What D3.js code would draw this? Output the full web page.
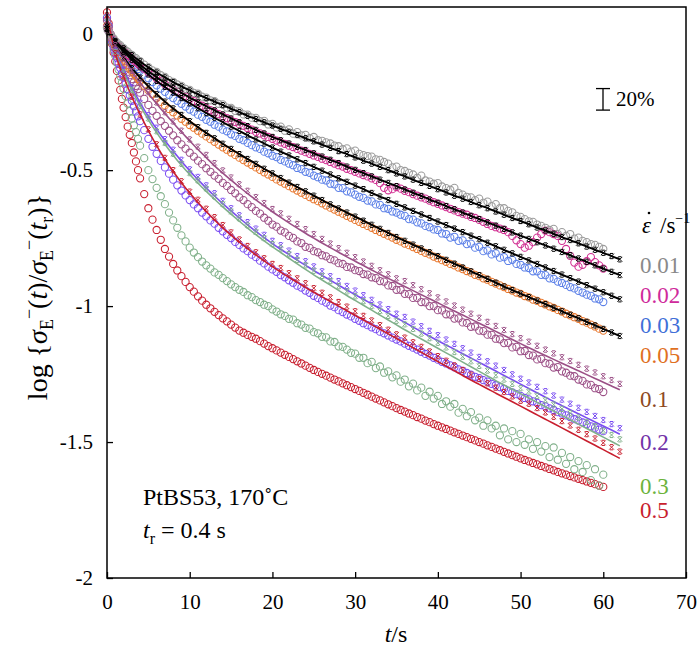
<!DOCTYPE html>
<html>
<head>
<meta charset="utf-8">
<script src="https://cdn.jsdelivr.net/npm/d3@7"></script>
<style>
  body { margin: 0; background: #fff; }
  text { font-family: "Liberation Serif", "Times New Roman", serif; }
</style>
</head>
<body>
<svg id="chart" width="698" height="652"></svg>
<script>
'use strict';

// ---------------------------------------------------------------- data
const rates = ['0.01', '0.02', '0.03', '0.05', '0.1', '0.2', '0.3', '0.5'];
const colors = ['#9c9c9c', '#d12f92', '#5c80e8', '#e8782f', '#9b4f86', '#7a4cf2', '#80b08a', '#c81e2e'];
const labelColors = ['#8a8a8a', '#cf2a9b', '#3f6fd8', '#e0701f', '#8e4a1e', '#7232a8', '#6cb33c', '#c81e2e'];
const labelY = [-0.85, -0.96, -1.07, -1.18, -1.34, -1.5, -1.66, -1.75];

const xTicks = [0, 10, 20, 30, 40, 50, 60, 70];
const yTicks = [0, -0.5, -1, -1.5, -2];

// model times (s), one per second
const fitT = [0, 1, 2, 3, 4, 5, 6, 7, 8, 9,
  10, 11, 12, 13, 14, 15, 16, 17, 18, 19,
  20, 21, 22, 23, 24, 25, 26, 27, 28, 29,
  30, 31, 32, 33, 34, 35, 36, 37, 38, 39,
  40, 41, 42, 43, 44, 45, 46, 47, 48, 49,
  50, 51, 52, 53, 54, 55, 56, 57, 58, 59,
  60, 61, 62];

// model curves (black ones also carry the markers)
const fit001 = [0.02, -0.025, -0.052, -0.077, -0.1, -0.122, -0.141, -0.159, -0.176, -0.192,
  -0.207, -0.221, -0.235, -0.248, -0.261, -0.274, -0.287, -0.3, -0.312, -0.324,
  -0.336, -0.348, -0.359, -0.371, -0.383, -0.394, -0.406, -0.418, -0.43, -0.441,
  -0.453, -0.465, -0.476, -0.488, -0.5, -0.512, -0.523, -0.535, -0.547, -0.558,
  -0.57, -0.582, -0.594, -0.605, -0.617, -0.629, -0.64, -0.652, -0.664, -0.676,
  -0.687, -0.699, -0.711, -0.722, -0.734, -0.746, -0.757, -0.769, -0.781, -0.793,
  -0.804, -0.816, -0.828];
const fit002 = [0.02, -0.028, -0.058, -0.086, -0.112, -0.136, -0.158, -0.179, -0.198, -0.216,
  -0.233, -0.249, -0.265, -0.28, -0.295, -0.31, -0.324, -0.338, -0.352, -0.365,
  -0.378, -0.39, -0.402, -0.414, -0.426, -0.438, -0.45, -0.462, -0.474, -0.487,
  -0.499, -0.511, -0.523, -0.535, -0.547, -0.559, -0.571, -0.583, -0.595, -0.608,
  -0.62, -0.632, -0.644, -0.656, -0.668, -0.68, -0.692, -0.704, -0.716, -0.729,
  -0.741, -0.753, -0.765, -0.777, -0.789, -0.801, -0.813, -0.825, -0.837, -0.85,
  -0.862, -0.874, -0.886];
const fit003 = [0.02, -0.03, -0.063, -0.094, -0.122, -0.148, -0.172, -0.194, -0.215, -0.235,
  -0.254, -0.272, -0.29, -0.307, -0.324, -0.34, -0.356, -0.372, -0.387, -0.402,
  -0.417, -0.432, -0.446, -0.46, -0.474, -0.488, -0.502, -0.516, -0.53, -0.543,
  -0.557, -0.57, -0.584, -0.597, -0.61, -0.624, -0.637, -0.65, -0.663, -0.676,
  -0.689, -0.702, -0.715, -0.728, -0.741, -0.754, -0.767, -0.78, -0.793, -0.806,
  -0.819, -0.832, -0.845, -0.858, -0.871, -0.884, -0.897, -0.91, -0.923, -0.936,
  -0.949, -0.962, -0.975];
const fit005 = [0.03, -0.04, -0.085, -0.125, -0.16, -0.192, -0.221, -0.248, -0.273, -0.297,
  -0.32, -0.342, -0.363, -0.383, -0.403, -0.422, -0.441, -0.459, -0.477, -0.495,
  -0.512, -0.529, -0.546, -0.562, -0.578, -0.594, -0.61, -0.626, -0.641, -0.656,
  -0.671, -0.686, -0.701, -0.716, -0.731, -0.746, -0.76, -0.774, -0.788, -0.802,
  -0.816, -0.83, -0.844, -0.858, -0.872, -0.886, -0.9, -0.914, -0.928, -0.941,
  -0.954, -0.967, -0.98, -0.993, -1.006, -1.019, -1.032, -1.045, -1.058, -1.071,
  -1.084, -1.097, -1.11];
const fit01 = [0.05, -0.04, -0.09, -0.135, -0.178, -0.218, -0.256, -0.292, -0.326, -0.36,
  -0.392, -0.424, -0.454, -0.484, -0.511, -0.537, -0.562, -0.586, -0.609, -0.631,
  -0.653, -0.674, -0.694, -0.713, -0.732, -0.75, -0.768, -0.785, -0.802, -0.819,
  -0.835, -0.851, -0.867, -0.883, -0.898, -0.913, -0.928, -0.943, -0.958, -0.973,
  -0.988, -1.003, -1.018, -1.033, -1.048, -1.063, -1.078, -1.093, -1.108, -1.123,
  -1.138, -1.153, -1.168, -1.182, -1.196, -1.21, -1.224, -1.238, -1.252, -1.266,
  -1.28, -1.294, -1.308];
const fit02 = [0.06, -0.06, -0.13, -0.195, -0.252, -0.303, -0.349, -0.391, -0.43, -0.467,
  -0.502, -0.535, -0.566, -0.595, -0.623, -0.65, -0.676, -0.701, -0.725, -0.748,
  -0.77, -0.791, -0.811, -0.831, -0.85, -0.869, -0.887, -0.905, -0.923, -0.941,
  -0.958, -0.975, -0.992, -1.009, -1.026, -1.043, -1.06, -1.077, -1.094, -1.111,
  -1.127, -1.143, -1.159, -1.175, -1.191, -1.207, -1.223, -1.239, -1.255, -1.271,
  -1.287, -1.303, -1.319, -1.335, -1.351, -1.366, -1.381, -1.396, -1.411, -1.426,
  -1.441, -1.456, -1.471];
const fit03 = [0.06, -0.065, -0.14, -0.205, -0.263, -0.315, -0.362, -0.405, -0.445, -0.482,
  -0.516, -0.548, -0.578, -0.607, -0.635, -0.662, -0.688, -0.713, -0.737, -0.76,
  -0.782, -0.803, -0.824, -0.845, -0.865, -0.885, -0.904, -0.923, -0.942, -0.961,
  -0.979, -0.997, -1.015, -1.033, -1.051, -1.069, -1.087, -1.104, -1.121, -1.138,
  -1.155, -1.172, -1.189, -1.206, -1.223, -1.24, -1.257, -1.274, -1.29, -1.306,
  -1.322, -1.338, -1.354, -1.37, -1.386, -1.402, -1.418, -1.434, -1.45, -1.466,
  -1.482, -1.498, -1.514];
const fit05 = [0.07, -0.07, -0.155, -0.23, -0.295, -0.355, -0.41, -0.46, -0.505, -0.546,
  -0.584, -0.619, -0.652, -0.683, -0.712, -0.739, -0.765, -0.789, -0.812, -0.834,
  -0.855, -0.875, -0.894, -0.913, -0.931, -0.949, -0.966, -0.983, -1.0, -1.017,
  -1.034, -1.051, -1.068, -1.085, -1.102, -1.119, -1.136, -1.153, -1.17, -1.187,
  -1.204, -1.221, -1.238, -1.255, -1.272, -1.288, -1.304, -1.32, -1.336, -1.352,
  -1.368, -1.384, -1.4, -1.416, -1.432, -1.448, -1.464, -1.48, -1.496, -1.512,
  -1.528, -1.544, -1.56];

// markers of the coloured series (sit a little above their curves)
const mark01 = [0.05, -0.04, -0.09, -0.135, -0.178, -0.213, -0.251, -0.287, -0.321, -0.355,
  -0.387, -0.414, -0.444, -0.474, -0.501, -0.527, -0.552, -0.576, -0.599, -0.621,
  -0.643, -0.659, -0.679, -0.698, -0.717, -0.735, -0.753, -0.77, -0.787, -0.804,
  -0.82, -0.836, -0.852, -0.868, -0.883, -0.898, -0.908, -0.923, -0.938, -0.953,
  -0.968, -0.983, -0.998, -1.013, -1.028, -1.043, -1.058, -1.073, -1.088, -1.103,
  -1.118, -1.131, -1.146, -1.16, -1.174, -1.188, -1.202, -1.216, -1.23, -1.244,
  -1.258, -1.272, -1.286];
const mark02 = [0.06, -0.06, -0.13, -0.195, -0.252, -0.298, -0.344, -0.386, -0.425, -0.462,
  -0.497, -0.525, -0.556, -0.585, -0.613, -0.64, -0.666, -0.691, -0.715, -0.738,
  -0.76, -0.776, -0.796, -0.816, -0.835, -0.854, -0.872, -0.89, -0.908, -0.926,
  -0.943, -0.96, -0.977, -0.994, -1.011, -1.028, -1.04, -1.057, -1.074, -1.091,
  -1.107, -1.123, -1.139, -1.155, -1.171, -1.187, -1.203, -1.219, -1.235, -1.251,
  -1.267, -1.281, -1.297, -1.313, -1.329, -1.344, -1.359, -1.374, -1.389, -1.404,
  -1.419, -1.434, -1.449];
const mark03 = [0.06, -0.065, -0.14, -0.205, -0.263, -0.31, -0.357, -0.4, -0.44, -0.477,
  -0.511, -0.538, -0.568, -0.597, -0.625, -0.652, -0.678, -0.703, -0.727, -0.75,
  -0.772, -0.788, -0.809, -0.83, -0.85, -0.87, -0.889, -0.908, -0.927, -0.946,
  -0.964, -0.982, -1.0, -1.018, -1.036, -1.054, -1.067, -1.084, -1.101, -1.118,
  -1.135, -1.152, -1.169, -1.186, -1.203, -1.22, -1.237, -1.254, -1.27, -1.286,
  -1.302, -1.314, -1.33, -1.346, -1.362, -1.378, -1.394, -1.41, -1.426, -1.442,
  -1.458, -1.474, -1.49];
const mark05 = [0.07, -0.07, -0.155, -0.23, -0.295, -0.35, -0.405, -0.455, -0.5, -0.541,
  -0.579, -0.609, -0.642, -0.673, -0.702, -0.729, -0.755, -0.779, -0.802, -0.824,
  -0.845, -0.86, -0.879, -0.898, -0.916, -0.934, -0.951, -0.968, -0.985, -1.002,
  -1.019, -1.036, -1.053, -1.07, -1.087, -1.104, -1.116, -1.133, -1.15, -1.167,
  -1.184, -1.201, -1.218, -1.235, -1.252, -1.268, -1.284, -1.3, -1.316, -1.332,
  -1.348, -1.359, -1.375, -1.391, -1.407, -1.423, -1.439, -1.455, -1.471, -1.487,
  -1.503, -1.519, -1.535];

// measurement times (s)
const expT = [0, 0.2, 0.4, 0.6, 0.8, 1, 1.2, 1.4, 1.6, 1.8, 2, 2.25, 2.5, 2.75, 3, 3.25, 3.5, 3.75, 4,
  4.5, 5, 5.5, 6, 6.5, 7, 7.5, 8, 8.5, 9, 9.5, 10,
  10.5, 11, 11.5, 12, 12.5, 13, 13.5, 14, 14.5, 15,
  15.5, 16, 16.5, 17, 17.5, 18, 18.5, 19, 19.5, 20,
  20.5, 21, 21.5, 22, 22.5, 23, 23.5, 24, 24.5, 25,
  25.5, 26, 26.5, 27, 27.5, 28, 28.5, 29, 29.5, 30,
  30.5, 31, 31.5, 32, 32.5, 33, 33.5, 34, 34.5, 35,
  35.5, 36, 36.5, 37, 37.5, 38, 38.5, 39, 39.5, 40,
  40.5, 41, 41.5, 42, 42.5, 43, 43.5, 44, 44.5, 45,
  45.5, 46, 46.5, 47, 47.5, 48, 48.5, 49, 49.5, 50,
  50.5, 51, 51.5, 52, 52.5, 53, 53.5, 54, 54.5, 55,
  55.5, 56, 56.5, 57, 57.5, 58, 58.5, 59, 59.5, 60];

const exp001 = [0.022, 0.009, 0.001, -0.01, -0.016, -0.027, -0.03, -0.038, -0.04, -0.049, -0.051, -0.06, -0.064, -0.073, -0.076, -0.085, -0.088, -0.096, -0.099,
  -0.112, -0.121, -0.133, -0.139, -0.151, -0.157, -0.169, -0.175, -0.185, -0.19, -0.201, -0.205,
  -0.216, -0.219, -0.23, -0.233, -0.243, -0.246, -0.256, -0.258, -0.27, -0.271,
  -0.282, -0.284, -0.295, -0.296, -0.307, -0.308, -0.32, -0.319, -0.332, -0.33,
  -0.343, -0.34, -0.355, -0.35, -0.366, -0.36, -0.372, -0.37, -0.382, -0.378,
  -0.39, -0.392, -0.398, -0.402, -0.41, -0.412, -0.423, -0.42, -0.432, -0.428,
  -0.44, -0.445, -0.448, -0.45, -0.46, -0.462, -0.47, -0.476, -0.49, -0.487,
  -0.5, -0.503, -0.51, -0.516, -0.528, -0.52, -0.538, -0.542, -0.55, -0.548,
  -0.56, -0.566, -0.572, -0.565, -0.584, -0.59, -0.598, -0.6, -0.61, -0.605,
  -0.62, -0.616, -0.632, -0.625, -0.64, -0.64, -0.65, -0.655, -0.668, -0.672,
  -0.68, -0.688, -0.69, -0.7, -0.705, -0.712, -0.72, -0.716, -0.735, -0.728,
  -0.742, -0.735, -0.752, -0.748, -0.76, -0.765, -0.772, -0.775, -0.782, -0.79];
const exp002 = [0.025, 0.011, 0.0, -0.012, -0.02, -0.03, -0.036, -0.043, -0.048, -0.055, -0.061, -0.068, -0.076, -0.082, -0.09, -0.096, -0.103, -0.109, -0.116,
  -0.127, -0.14, -0.15, -0.163, -0.172, -0.184, -0.192, -0.203, -0.212, -0.222, -0.229, -0.24,
  -0.246, -0.256, -0.263, -0.272, -0.279, -0.287, -0.294, -0.302, -0.309, -0.317,
  -0.323, -0.331, -0.337, -0.345, -0.351, -0.359, -0.365, -0.372, -0.378, -0.385,
  -0.391, -0.398, -0.403, -0.41, -0.415, -0.422, -0.428, -0.434, -0.44, -0.446,
  -0.451, -0.458, -0.463, -0.47, -0.476, -0.482, -0.487, -0.495, -0.5, -0.506,
  -0.512, -0.518, -0.523, -0.53, -0.536, -0.548, -0.565, -0.574, -0.57, -0.562,
  -0.568, -0.576, -0.581, -0.588, -0.594, -0.6, -0.605, -0.612, -0.618, -0.624,
  -0.63, -0.636, -0.642, -0.648, -0.654, -0.66, -0.664, -0.672, -0.676, -0.683,
  -0.69, -0.698, -0.705, -0.71, -0.715, -0.72, -0.728, -0.742, -0.758, -0.772,
  -0.785, -0.778, -0.765, -0.748, -0.735, -0.722, -0.728, -0.735, -0.742, -0.76,
  -0.79, -0.815, -0.84, -0.855, -0.848, -0.835, -0.82, -0.838, -0.85, -0.862];
const exp003 = [0.025, 0.012, 0.0, -0.013, -0.024, -0.034, -0.042, -0.05, -0.058, -0.066, -0.073, -0.082, -0.09, -0.098, -0.106, -0.114, -0.121, -0.128, -0.135,
  -0.149, -0.162, -0.176, -0.188, -0.2, -0.212, -0.223, -0.235, -0.245, -0.256, -0.266, -0.277,
  -0.285, -0.296, -0.304, -0.315, -0.322, -0.333, -0.34, -0.351, -0.357, -0.368,
  -0.374, -0.385, -0.39, -0.4, -0.408, -0.416, -0.422, -0.432, -0.438, -0.447,
  -0.452, -0.462, -0.468, -0.476, -0.482, -0.492, -0.496, -0.506, -0.51, -0.52,
  -0.526, -0.535, -0.538, -0.55, -0.552, -0.565, -0.566, -0.578, -0.582, -0.59,
  -0.598, -0.602, -0.612, -0.615, -0.626, -0.628, -0.64, -0.642, -0.652, -0.656,
  -0.664, -0.668, -0.68, -0.682, -0.692, -0.696, -0.705, -0.71, -0.718, -0.72,
  -0.733, -0.735, -0.748, -0.745, -0.76, -0.758, -0.772, -0.77, -0.785, -0.782,
  -0.798, -0.795, -0.81, -0.806, -0.822, -0.82, -0.834, -0.83, -0.845, -0.848,
  -0.858, -0.86, -0.872, -0.872, -0.885, -0.886, -0.898, -0.9, -0.91, -0.915,
  -0.922, -0.93, -0.935, -0.944, -0.95, -0.958, -0.962, -0.972, -0.975, -0.985];
const exp005 = [0.03, 0.014, 0.0, -0.016, -0.03, -0.043, -0.054, -0.064, -0.074, -0.084, -0.093, -0.104, -0.115, -0.126, -0.136, -0.146, -0.155, -0.164, -0.173,
  -0.19, -0.206, -0.221, -0.235, -0.249, -0.262, -0.275, -0.287, -0.299, -0.311, -0.322, -0.334,
  -0.344, -0.355, -0.366, -0.376, -0.386, -0.396, -0.406, -0.416, -0.425, -0.435,
  -0.444, -0.454, -0.463, -0.472, -0.481, -0.49, -0.499, -0.508, -0.516, -0.525,
  -0.534, -0.542, -0.55, -0.559, -0.567, -0.575, -0.583, -0.591, -0.599, -0.607,
  -0.614, -0.622, -0.63, -0.638, -0.645, -0.653, -0.66, -0.668, -0.675, -0.683,
  -0.69, -0.698, -0.705, -0.712, -0.72, -0.727, -0.734, -0.741, -0.748, -0.756,
  -0.762, -0.77, -0.776, -0.783, -0.79, -0.797, -0.804, -0.81, -0.818, -0.824,
  -0.831, -0.837, -0.845, -0.85, -0.858, -0.864, -0.871, -0.877, -0.885, -0.89,
  -0.898, -0.903, -0.911, -0.917, -0.924, -0.93, -0.937, -0.943, -0.95, -0.955,
  -0.963, -0.968, -0.976, -0.981, -0.988, -0.994, -1.001, -1.007, -1.014, -1.02,
  -1.028, -1.034, -1.041, -1.047, -1.055, -1.061, -1.068, -1.075, -1.083, -1.09];
const exp01 = [0.05, 0.025, 0.0, -0.018, -0.034, -0.05, -0.062, -0.076, -0.086, -0.099, -0.11, -0.124, -0.138, -0.151, -0.165, -0.177, -0.19, -0.202, -0.215,
  -0.238, -0.26, -0.282, -0.3, -0.32, -0.337, -0.355, -0.372, -0.39, -0.405, -0.421, -0.436,
  -0.45, -0.465, -0.478, -0.493, -0.506, -0.52, -0.532, -0.547, -0.558, -0.573,
  -0.585, -0.6, -0.61, -0.625, -0.636, -0.65, -0.66, -0.675, -0.686, -0.7,
  -0.708, -0.722, -0.729, -0.742, -0.749, -0.762, -0.768, -0.782, -0.786, -0.798,
  -0.802, -0.813, -0.817, -0.827, -0.832, -0.842, -0.845, -0.856, -0.858, -0.868,
  -0.871, -0.882, -0.884, -0.894, -0.897, -0.908, -0.91, -0.924, -0.926, -0.94,
  -0.94, -0.955, -0.956, -0.97, -0.97, -0.985, -0.986, -1.0, -1.0, -1.015,
  -1.016, -1.03, -1.031, -1.046, -1.045, -1.06, -1.062, -1.076, -1.075, -1.09,
  -1.092, -1.105, -1.106, -1.12, -1.122, -1.136, -1.135, -1.152, -1.15, -1.166,
  -1.165, -1.18, -1.182, -1.196, -1.194, -1.21, -1.212, -1.226, -1.224, -1.24,
  -1.245, -1.256, -1.258, -1.27, -1.275, -1.288, -1.29, -1.302, -1.305, -1.316];
const exp02 = [0.06, 0.03, 0.0, -0.025, -0.048, -0.07, -0.088, -0.107, -0.125, -0.143, -0.16, -0.182, -0.203, -0.225, -0.245, -0.265, -0.284, -0.302, -0.32,
  -0.353, -0.385, -0.414, -0.44, -0.466, -0.49, -0.513, -0.535, -0.556, -0.575, -0.593, -0.61,
  -0.626, -0.64, -0.656, -0.67, -0.685, -0.697, -0.712, -0.725, -0.738, -0.75,
  -0.764, -0.775, -0.788, -0.798, -0.811, -0.82, -0.833, -0.843, -0.855, -0.865,
  -0.874, -0.886, -0.894, -0.905, -0.914, -0.925, -0.932, -0.943, -0.951, -0.962,
  -0.97, -0.98, -0.987, -0.998, -1.004, -1.015, -1.022, -1.031, -1.038, -1.047,
  -1.054, -1.063, -1.07, -1.078, -1.085, -1.094, -1.1, -1.108, -1.116, -1.123,
  -1.13, -1.138, -1.146, -1.153, -1.16, -1.168, -1.176, -1.182, -1.19, -1.197,
  -1.205, -1.211, -1.218, -1.225, -1.233, -1.238, -1.246, -1.252, -1.26, -1.265,
  -1.272, -1.278, -1.286, -1.291, -1.298, -1.304, -1.312, -1.317, -1.324, -1.33,
  -1.338, -1.343, -1.35, -1.356, -1.364, -1.369, -1.376, -1.382, -1.39, -1.395,
  -1.402, -1.408, -1.416, -1.421, -1.428, -1.434, -1.442, -1.447, -1.454, -1.46];
const exp03 = [0.06, 0.03, 0.0, -0.03, -0.056, -0.08, -0.105, -0.13, -0.155, -0.178, -0.2, -0.228, -0.255, -0.283, -0.31, -0.335, -0.36, -0.385, -0.41,
  -0.456, -0.5, -0.533, -0.565, -0.596, -0.625, -0.656, -0.685, -0.712, -0.74, -0.762, -0.785,
  -0.803, -0.82, -0.836, -0.85, -0.862, -0.876, -0.885, -0.897, -0.908, -0.92,
  -0.93, -0.94, -0.948, -0.96, -0.967, -0.978, -0.985, -0.995, -1.0, -1.012,
  -1.02, -1.03, -1.036, -1.047, -1.05, -1.063, -1.068, -1.08, -1.083, -1.096,
  -1.1, -1.113, -1.115, -1.13, -1.132, -1.148, -1.15, -1.16, -1.172, -1.175,
  -1.19, -1.19, -1.21, -1.205, -1.228, -1.222, -1.245, -1.24, -1.262, -1.255,
  -1.278, -1.27, -1.295, -1.285, -1.31, -1.3, -1.33, -1.315, -1.34, -1.33,
  -1.36, -1.35, -1.37, -1.36, -1.392, -1.378, -1.405, -1.39, -1.42, -1.41,
  -1.44, -1.42, -1.45, -1.44, -1.475, -1.45, -1.49, -1.46, -1.5, -1.47,
  -1.51, -1.49, -1.525, -1.5, -1.535, -1.515, -1.555, -1.52, -1.565, -1.54,
  -1.58, -1.555, -1.6, -1.57, -1.61, -1.585, -1.64, -1.6, -1.66, -1.62];
const exp05 = [0.08, 0.04, 0.0, -0.035, -0.068, -0.1, -0.135, -0.17, -0.205, -0.238, -0.27, -0.305, -0.34, -0.37, -0.4, -0.435, -0.468, -0.5, -0.53,
  -0.588, -0.64, -0.682, -0.72, -0.756, -0.79, -0.818, -0.845, -0.869, -0.89, -0.911, -0.93,
  -0.947, -0.964, -0.98, -0.995, -1.008, -1.021, -1.033, -1.045, -1.056, -1.068,
  -1.079, -1.09, -1.098, -1.106, -1.113, -1.12, -1.129, -1.138, -1.147, -1.155,
  -1.163, -1.171, -1.179, -1.187, -1.195, -1.203, -1.211, -1.219, -1.227, -1.235,
  -1.242, -1.249, -1.256, -1.263, -1.27, -1.277, -1.284, -1.291, -1.298, -1.305,
  -1.312, -1.319, -1.326, -1.333, -1.34, -1.347, -1.354, -1.361, -1.368, -1.375,
  -1.382, -1.388, -1.395, -1.401, -1.408, -1.414, -1.421, -1.427, -1.434, -1.44,
  -1.446, -1.452, -1.458, -1.464, -1.47, -1.476, -1.482, -1.488, -1.494, -1.5,
  -1.506, -1.512, -1.518, -1.524, -1.53, -1.536, -1.542, -1.548, -1.554, -1.56,
  -1.566, -1.571, -1.577, -1.582, -1.588, -1.593, -1.599, -1.604, -1.61, -1.615,
  -1.62, -1.625, -1.63, -1.635, -1.64, -1.645, -1.65, -1.655, -1.66, -1.665];

const fits = [fit001, fit002, fit003, fit005, fit01, fit02, fit03, fit05];
const marks = [fit001, fit002, fit003, fit005, mark01, mark02, mark03, mark05];
const exps = [exp001, exp002, exp003, exp005, exp01, exp02, exp03, exp05];

// ---------------------------------------------------------------- chart
const W = 698, H = 652;
const margin = {left: 107, right: 12, top: 7, bottom: 74};
const svg = d3.select('#chart');

const x = d3.scaleLinear().domain([0, 70]).range([margin.left, W - margin.right]);
const y = d3.scaleLinear().domain([-2, 0.1]).range([H - margin.bottom, margin.top]);

const zip = (ts, vs) => ts.map((t, k) => [t, vs[k]]).filter(d => d[1] !== undefined);

const plot = svg.append('g');

// measured points, lowest rate drawn last
for (let i = exps.length - 1; i >= 0; --i) {
  plot.append('g').selectAll('circle')
    .data(zip(expT, exps[i]))
    .enter().append('circle')
    .attr('cx', d => x(d[0]))
    .attr('cy', d => y(d[1]))
    .attr('r', 3.6)
    .attr('fill', 'none')
    .attr('stroke', colors[i])
    .attr('stroke-width', 1.05);
}

// model curves
const line = d3.line().x(d => x(d[0])).y(d => y(d[1])).curve(d3.curveMonotoneX);
fits.forEach((arr, i) => {
  plot.append('path')
    .datum(zip(fitT, arr))
    .attr('d', line)
    .attr('fill', 'none')
    .attr('stroke', i < 4 ? '#000' : colors[i])
    .attr('stroke-width', i < 4 ? 1.9 : 1.6);
});

// model markers (small crosses with caps)
const cross = 'M-2.4,-2.4L2.4,2.4M2.4,-2.4L-2.4,2.4M-1.6,-2.6L1.6,-2.6M-1.6,2.6L1.6,2.6';
marks.forEach((arr, i) => {
  plot.append('g').selectAll('path')
    .data(zip(fitT, arr))
    .enter().append('path')
    .attr('d', cross)
    .attr('transform', d => `translate(${x(d[0])},${y(d[1])})`)
    .attr('fill', 'none')
    .attr('stroke', i < 4 ? '#000' : colors[i])
    .attr('stroke-width', 1);
});

// frame
svg.append('rect')
  .attr('x', margin.left).attr('y', margin.top)
  .attr('width', W - margin.left - margin.right)
  .attr('height', H - margin.top - margin.bottom)
  .attr('fill', 'none').attr('stroke', '#000').attr('stroke-width', 1.5);

const xAxis = d3.axisBottom(x).tickValues(xTicks).tickSize(-6).tickPadding(16).tickFormat(d3.format('d'));
svg.append('g').attr('transform', `translate(0,${H - margin.bottom})`).call(xAxis)
  .call(g => g.select('.domain').remove())
  .call(g => g.selectAll('line').attr('stroke-width', 1.3))
  .call(g => g.selectAll('text').attr('font-size', 21).attr('font-family', 'Liberation Serif'));

const yAxis = d3.axisLeft(y).tickValues(yTicks).tickSize(-6).tickPadding(14).tickFormat(d => String(d));
svg.append('g').attr('transform', `translate(${margin.left},0)`).call(yAxis)
  .call(g => g.select('.domain').remove())
  .call(g => g.selectAll('line').attr('stroke-width', 1.3))
  .call(g => g.selectAll('text').attr('font-size', 21).attr('font-family', 'Liberation Serif'));

// axis titles
svg.append('text').attr('x', 396).attr('y', 642).attr('text-anchor', 'middle').attr('font-size', 24)
  .html('<tspan font-style="italic">t</tspan>/s');

svg.append('text').attr('transform', 'translate(47,297) rotate(-90)').attr('text-anchor', 'middle').attr('font-size', 28)
  .html('log {<tspan font-style="italic">σ</tspan><tspan font-size="18" dy="6">E</tspan><tspan font-size="18" dy="-18">−</tspan>' +
    '<tspan dy="12">(<tspan font-style="italic">t</tspan>)/</tspan><tspan font-style="italic">σ</tspan>' +
    '<tspan font-size="18" dy="6">E</tspan><tspan font-size="18" dy="-18">−</tspan><tspan dy="12">(<tspan font-style="italic">t</tspan></tspan>' +
    '<tspan font-size="18" dy="6">r</tspan><tspan dy="-6">)}</tspan>');

// sample annotation
svg.append('text').attr('x', 143).attr('y', 505).attr('font-size', 24).text('PtBS53, 170˚C');
svg.append('text').attr('x', 143).attr('y', 538).attr('font-size', 24)
  .html('<tspan font-style="italic">t</tspan><tspan font-size="16" dy="6">r</tspan><tspan dy="-6"> = 0.4 s</tspan>');

// 20 % scale bar
const by0 = y(-0.2), by1 = y(-0.2 - Math.log10(1.2));
const bar = svg.append('g').attr('stroke', '#000').attr('stroke-width', 1.3);
bar.append('line').attr('x1', 603).attr('x2', 603).attr('y1', by0).attr('y2', by1);
bar.append('line').attr('x1', 596).attr('x2', 610).attr('y1', by0).attr('y2', by0);
bar.append('line').attr('x1', 596).attr('x2', 610).attr('y1', by1).attr('y2', by1);
svg.append('text').attr('x', 616).attr('y', (by0 + by1) / 2 + 7).attr('font-size', 21).text('20%');

// legend
svg.append('text').attr('x', 642).attr('y', 233).attr('font-size', 23).attr('font-style', 'italic').text('ε');
svg.append('circle').attr('cx', 649).attr('cy', 213).attr('r', 1.3).attr('fill', '#000');
svg.append('text').attr('x', 660).attr('y', 233).attr('font-size', 23)
  .html('/s<tspan font-size="14" dy="-10">−1</tspan>');
rates.forEach((r, i) => {
  svg.append('text').attr('x', 640).attr('y', y(labelY[i]) + 8).attr('font-size', 23)
    .attr('fill', labelColors[i]).text(r);
});
</script>
</body>
</html>
